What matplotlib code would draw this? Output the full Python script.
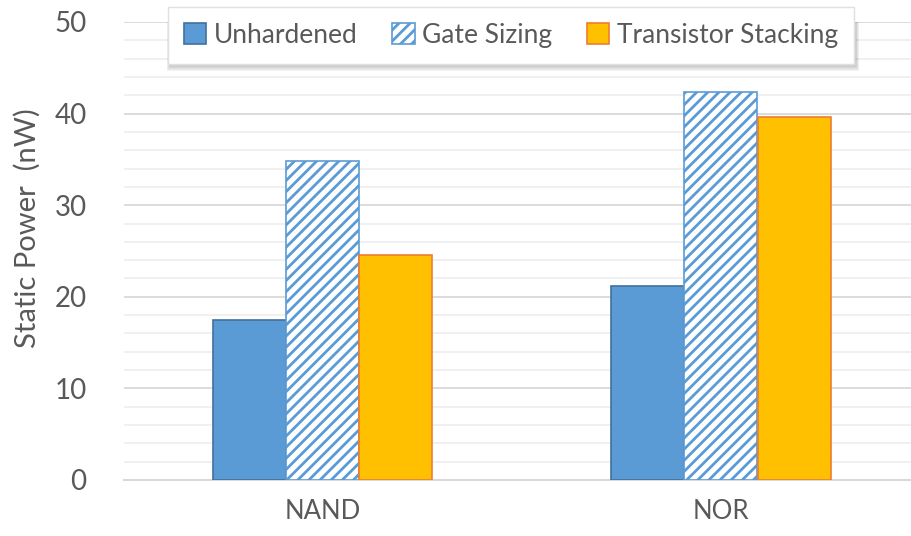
import numpy as np
import matplotlib
matplotlib.use("Agg")
import matplotlib.pyplot as plt
from matplotlib.ticker import MultipleLocator
from matplotlib.patches import Rectangle

# Dados
categories = ["NAND", "NOR"]
series_names = ["Unhardened", "Gate Sizing", "Transistor Stacking"]
unhardened = [17.5, 21.2]
gate_sizing = [34.8, 42.4]
transistor_stacking = [24.6, 39.6]
y_ticks = [0, 10, 20, 30, 40, 50]

plt.rcParams["font.family"] = ["Lato", "DejaVu Sans"]
plt.rcParams["hatch.linewidth"] = 2.0
plt.rcParams["hatch.color"] = "#5B9BD5"

text_color = "#595959"

fig = plt.figure(figsize=(9.12, 5.36), dpi=100)
ax = fig.add_axes([124 / 912, 1 - 480 / 536, (920 - 124) / 912, (480 - 22) / 536])

x = np.arange(len(categories))
w = 73 / 398

ax.bar(x - w, unhardened, w, color="#5B9BD5", edgecolor="#41719C",
       linewidth=1.2, label=series_names[0], zorder=3)
ax.bar(x, gate_sizing, w, color="white", edgecolor="#5B9BD5", hatch="///",
       linewidth=1.2, label=series_names[1], zorder=3)
ax.bar(x + w, transistor_stacking, w, color="#FFC000", edgecolor="#ED7D31",
       linewidth=1.2, label=series_names[2], zorder=3)

ax.set_xlim(-0.5, 1.5)
ax.set_ylim(0, 50)
ax.set_xticks(x)
ax.set_xticklabels(categories)
ax.set_yticks(y_ticks)
ax.yaxis.set_minor_locator(MultipleLocator(2))

ax.grid(axis="y", which="major", color="#D9D9D9", linewidth=1.3, zorder=0)
ax.grid(axis="y", which="minor", color="#EFEFEF", linewidth=1.3, zorder=0)

for s in ["top", "right", "left"]:
    ax.spines[s].set_visible(False)
ax.spines["bottom"].set_color("#D9D9D9")
ax.spines["bottom"].set_linewidth(1.5)

ax.tick_params(axis="both", which="both", length=0, labelcolor=text_color)
ax.tick_params(axis="y", pad=27, labelsize=20)
ax.tick_params(axis="x", pad=14, labelsize=18.5)

ax.set_ylabel("Static Power  (nW)", fontsize=21, color=text_color,
              labelpad=10, y=0.55)

leg = ax.legend(loc="upper center", bbox_to_anchor=(511 / 912, 1 - 7 / 536),
                bbox_transform=fig.transFigure, ncol=3, frameon=True,
                fancybox=False, shadow=False, fontsize=19, framealpha=1,
                handlelength=0.85, handleheight=0.85, handletextpad=0.3,
                columnspacing=1.3, borderpad=0.6, borderaxespad=0)
leg.get_frame().set_edgecolor("#E0E0E0")
leg.get_frame().set_linewidth(1)
leg.set_zorder(10)
for t in leg.get_texts():
    t.set_color(text_color)

# Sombra suave da legenda, feita com retângulos semi-transparentes
fig.canvas.draw()
bb = leg.get_window_extent()
for i in range(8):
    off = i + 1
    r = Rectangle((bb.x0 + 2 - off * 0.4, bb.y0 - 3 - off * 0.6),
                  bb.width + off * 0.8, bb.height,
                  transform=None, facecolor="#000000", alpha=0.025,
                  edgecolor="none", zorder=9)
    ax.add_artist(r)

fig.savefig("out.png", dpi=100)
